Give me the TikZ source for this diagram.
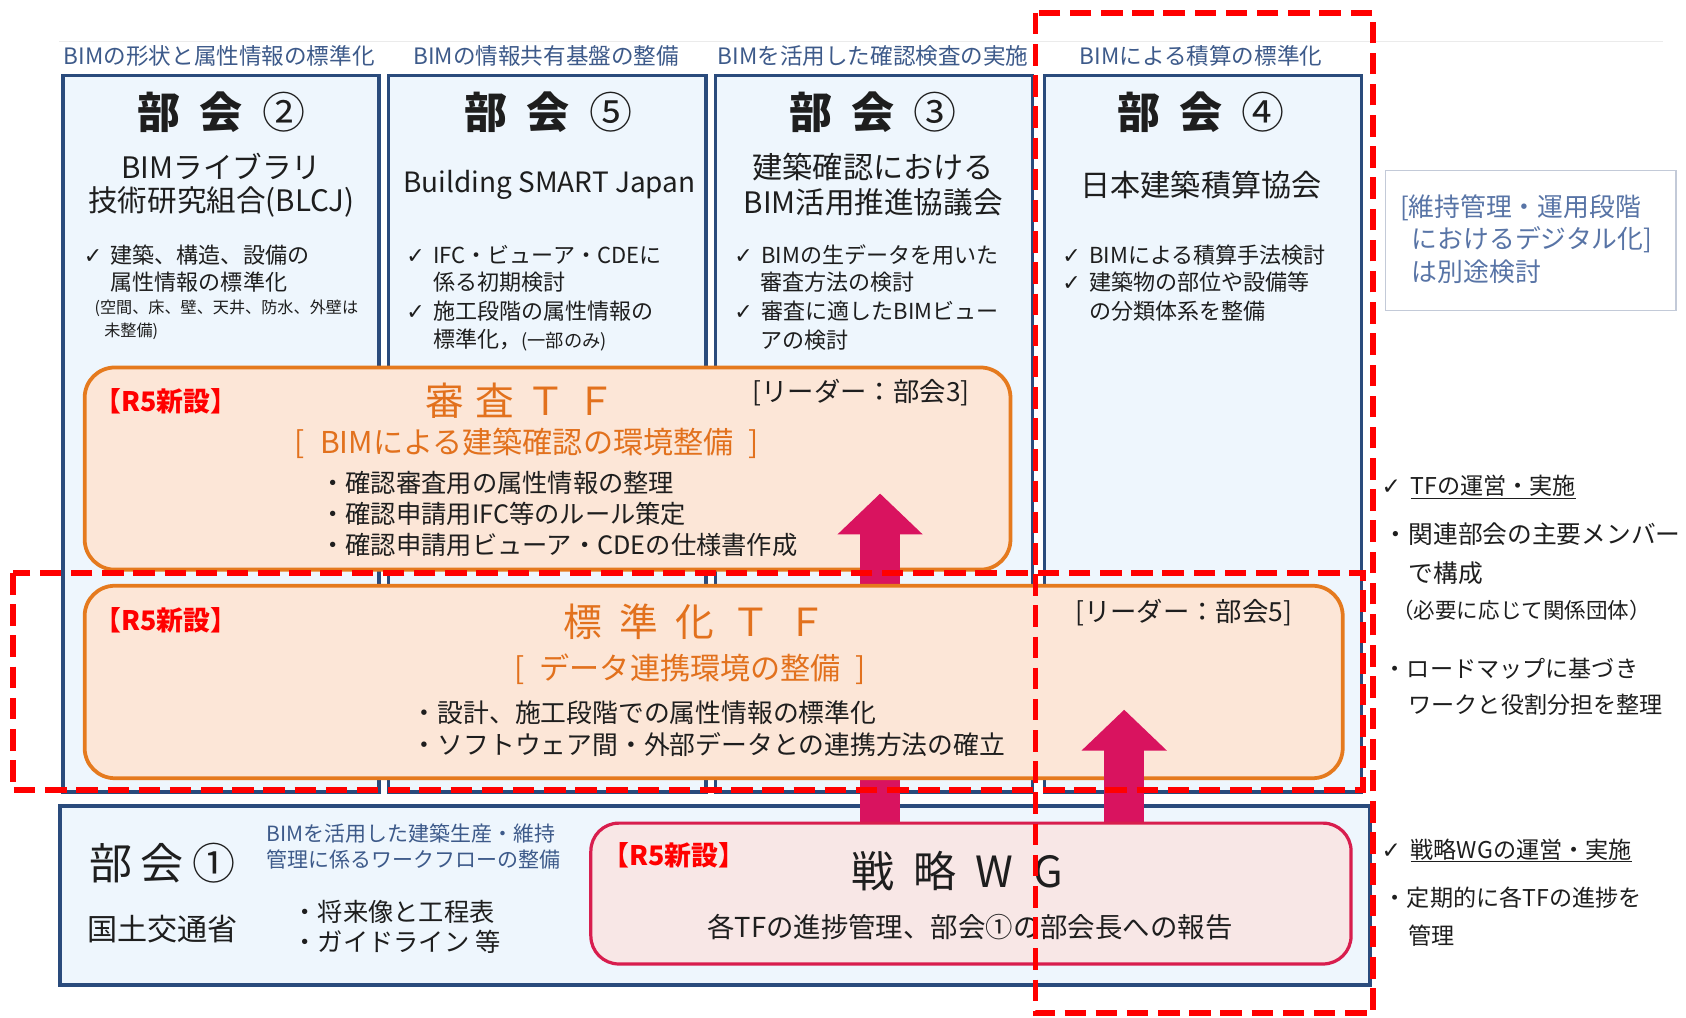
\documentclass[tikz,border=0pt]{standalone}
\usepackage{fontspec}
\setmainfont{Noto Sans CJK JP}
\newfontfamily\symf{DejaVu Sans}
\usetikzlibrary{arrows.meta}
\newcommand\fs[1]{\fontsize{#1pt}{#1pt}\selectfont}
\newcommand\chk{\makebox[25pt][l]{\symf ✓}}
\definecolor{navy}{HTML}{2A4B7C}
\definecolor{colfill}{HTML}{EEF6FD}
\definecolor{hdrc}{HTML}{3D5A8A}
\definecolor{tforange}{HTML}{E57A1E}
\definecolor{tffill}{HTML}{FCE6D7}
\definecolor{tftitle}{HTML}{E2711D}
\definecolor{mag}{HTML}{D9135F}
\definecolor{wgline}{HTML}{D81E4E}
\definecolor{wgfill}{HTML}{F8E7E6}
\definecolor{dred}{HTML}{FF0000}
\definecolor{ink}{HTML}{1E1E1E}
\definecolor{rtxt}{HTML}{5874A6}
\definecolor{rline}{HTML}{C3CAD8}
\tikzset{
  t/.style={inner sep=0pt, outer sep=0pt, text=ink},
  tw/.style={t, anchor=west},
  hdr/.style={t, text=hdrc, font=\fs{21}},
  big/.style={t, font=\fs{40}\bfseries},
  org/.style={t, font=\fs{28}},
  bul/.style={tw, font=\fs{20.5}},
  colbox/.style={draw=navy, fill=colfill, line width=3pt, anchor=north west, minimum width=295pt, minimum height=666pt, inner sep=0pt},
  tfbox/.style={draw=tforange, fill=tffill, line width=3.5pt, rounded corners=28pt, anchor=north west, inner sep=0pt},
  wgbox/.style={draw=wgline, fill=wgfill, line width=3pt, rounded corners=26pt, anchor=north west, inner sep=0pt},
  r5/.style={tw, text=dred, font=\fs{25}\bfseries},
  tftt/.style={t, text=tftitle, font=\fs{36}},
  tfsub/.style={t, text=tftitle, font=\fs{28}},
  tfb/.style={tw, font=\fs{23.5}},
  leader/.style={tw, font=\fs{24.5}},
  bigarrow/.style={draw=mag, line width=37pt, -{Triangle[width=77pt,length=38pt]}},
  reddash/.style={draw=dred, line width=5.5pt, dash pattern=on 20pt off 9pt},
  rt/.style={tw, font=\fs{21.5}},
}
\begin{document}
\begin{tikzpicture}[x=1pt,y=-1pt]
\useasboundingbox (0,0) rectangle (1568,946);
\fill[white] (0,0) rectangle (1568,946);
\draw[black!8, line width=1pt] (55,39) -- (1547,39);

% headers
\node[hdr] (h1) at (204,52) {BIMの形状と属性情報の標準化};
\node[hdr] (h2) at (508,52) {BIMの情報共有基盤の整備};
\node[hdr] (h3) at (812,52) {BIMを活用した確認検査の実施};
\node[hdr] (h4) at (1117,52) {BIMによる積算の標準化};

% column boxes
\node[colbox, minimum width=294pt] (c2) at (57,69) {};
\node[colbox] (c5) at (360,69) {};
\node[colbox] (c3) at (664,69) {};
\node[colbox] (c4) at (970,69) {};

% bottom box
\node[draw=navy, fill=colfill, line width=3.5pt, anchor=north west, minimum width=1218pt, minimum height=166pt, inner sep=0pt] (b1) at (54,748) {};

% TF1
\node[tfbox, minimum width=861pt, minimum height=188pt] (tf1) at (77,340) {};
\coordinate (a1s) at (818.5,764);
\coordinate (a1e) at (818.5,459);
\draw[bigarrow] (a1s) -- (a1e);
% TF2
\node[tfbox, minimum width=1170pt, minimum height=179pt] (tf2) at (77,543) {};
\coordinate (a2s) at (1045.5,764);
\coordinate (a2e) at (1045.5,660);
\draw[bigarrow] (a2s) -- (a2e);
% WG
\node[wgbox, minimum width=707pt, minimum height=131pt] (wg) at (548,764) {};

% column 2
\node[big] (k2) at (206,104) {部\hspace{0.45em}会\hspace{0.45em}{\mdseries ②}};
\node[org, font=\fs{27.5}] (o2a) at (206,155) {BIMライブラリ};
\node[org, font=\fs{27.5}] (o2b) at (206,188) {技術研究組合(BLCJ)};
\node[bul] (p2a) at (78,237) {\chk 建築、構造、設備の};
\node[bul] (p2b) at (103,262) {属性情報の標準化};
\node[tw, font=\fs{15}] (p2c) at (88,287) {(空間、床、壁、天井、防水、外壁は};
\node[tw, font=\fs{15}] (p2d) at (97,308) {未整備)};

% column 5
\node[big] (k5) at (510,104) {部\hspace{0.45em}会\hspace{0.45em}{\mdseries ⑤}};
\node[org, font=\fs{26}] (o5) at (511,172) {Building SMART Japan};
\node[bul] (p5a) at (378,237) {\chk IFC・ビューア・CDEに};
\node[bul] (p5b) at (403,262) {係る初期検討};
\node[bul] (p5c) at (378,289) {\chk 施工段階の属性情報の};
\node[bul] (p5d) at (403,316) {標準化，{\fs{17}(一部のみ)}};

% column 3
\node[big] (k3) at (812,104) {部\hspace{0.45em}会\hspace{0.45em}{\mdseries ③}};
\node[org] (o3a) at (812,155) {建築確認における};
\node[org, font=\fs{27.5}] (o3b) at (812,188) {BIM活用推進協議会};
\node[bul] (p3a) at (683,237) {\chk BIMの生データを用いた};
\node[bul] (p3b) at (707,262) {審査方法の検討};
\node[bul] (p3c) at (683,289) {\chk 審査に適したBIMビュー};
\node[bul] (p3d) at (707,316) {アの検討};

% column 4
\node[big] (k4) at (1117,104) {部\hspace{0.45em}会\hspace{0.45em}{\mdseries ④}};
\node[org] (o4) at (1117,172) {日本建築積算協会};
\node[bul] (p4a) at (988,237) {\chk BIMによる積算手法検討};
\node[bul] (p4b) at (988,262) {\chk 建築物の部位や設備等};
\node[bul] (p4c) at (1013,289) {の分類体系を整備};

% TF1 texts
\node[r5] (r1) at (88,373) {【R5新設】};
\node[tftt] (tf1t) at (484,373) {審\hspace{0.3em}査\hspace{0.3em}Ｔ\hspace{0.3em}Ｆ};
\node[leader] (l1) at (700,365) {[リーダー：部会3]};
\node[tfsub] (tf1s) at (490,412) {[\hspace{0.5em}BIMによる建築確認の環境整備\hspace{0.5em}]};
\node[tfb] (q1a) at (298,449) {・確認審査用の属性情報の整理};
\node[tfb] (q1b) at (298,478) {・確認申請用IFC等のルール策定};
\node[tfb] (q1c) at (298,507) {・確認申請用ビューア・CDEの仕様書作成};

% TF2 texts
\node[r5] (r2) at (88,577) {【R5新設】};
\node[tftt] (tf2t) at (646,578) {標\hspace{0.45em}準\hspace{0.45em}化\hspace{0.45em}Ｔ\hspace{0.45em}Ｆ};
\node[leader] (l2) at (1000,570) {[リーダー：部会5]};
\node[tfsub] (tf2s) at (642,622) {[\hspace{0.5em}データ連携環境の整備\hspace{0.5em}]};
\node[tw, font=\fs{24}] (q2a) at (383,663) {・設計、施工段階での属性情報の標準化};
\node[tw, font=\fs{24}] (q2b) at (383,692) {・ソフトウェア間・外部データとの連携方法の確立};

% bottom texts
\node[t, font=\fs{40}] (k1) at (151,803) {部\hspace{0.2em}会\hspace{0.2em}①};
\node[org] (o1) at (151,864) {国土交通省};
\node[tw, text=hdrc, font=\fs{19.5}] (s1a) at (248,775) {BIMを活用した建築生産・維持};
\node[tw, text=hdrc, font=\fs{19.5}] (s1b) at (248,799) {管理に係るワークフローの整備};
\node[tfb] (s1c) at (272,848) {・将来像と工程表};
\node[tfb] (s1d) at (272,876) {・ガイドライン 等};

% WG texts
\node[r5] (r3) at (560,795) {【R5新設】};
\node[t, font=\fs{40}] (wgt) at (890,810) {戦\hspace{0.45em}略\hspace{0.45em}W\hspace{0.45em}G};
\node[t, font=\fs{25.5}] (wgs) at (902,862) {各TFの進捗管理、部会①の部会長への報告};

% right side
\node[draw=rline, line width=1.2pt, fill=white, anchor=north west, minimum width=270pt, minimum height=130pt, inner sep=0pt] (rb) at (1288,158) {};
\node[tw, text=rtxt, font=\fs{24}] (rb1) at (1302,193) {[維持管理・運用段階};
\node[tw, text=rtxt, font=\fs{24}] (rb2) at (1313,223) {におけるデジタル化]};
\node[tw, text=rtxt, font=\fs{24}] (rb3) at (1313,253) {は別途検討};

\node[rt] (x1) at (1285,453) {\makebox[27pt][l]{\symf ✓}\underline{TFの運営・実施}};
\node[rt, font=\fs{23}] (x2) at (1287,497) {・関連部会の主要メンバー};
\node[rt, font=\fs{23}] (x3) at (1310,533) {で構成};
\node[rt, font=\fs{20}] (x4) at (1295,568) {（必要に応じて関係団体）};
\node[rt] (x5) at (1287,622) {・ロードマップに基づき};
\node[rt] (x6) at (1310,655) {ワークと役割分担を整理};
\node[rt] (x7) at (1285,791) {\makebox[27pt][l]{\symf ✓}\underline{戦略WGの運営・実施}};
\node[rt] (x8) at (1287,835) {・定期的に各TFの進捗を};
\node[rt] (x9) at (1310,870) {管理};

% red dashed frames
\draw[reddash] (963,12) rectangle (1277,942);
\draw[reddash] (12,533) rectangle (1268,735);
\end{tikzpicture}
\end{document}
